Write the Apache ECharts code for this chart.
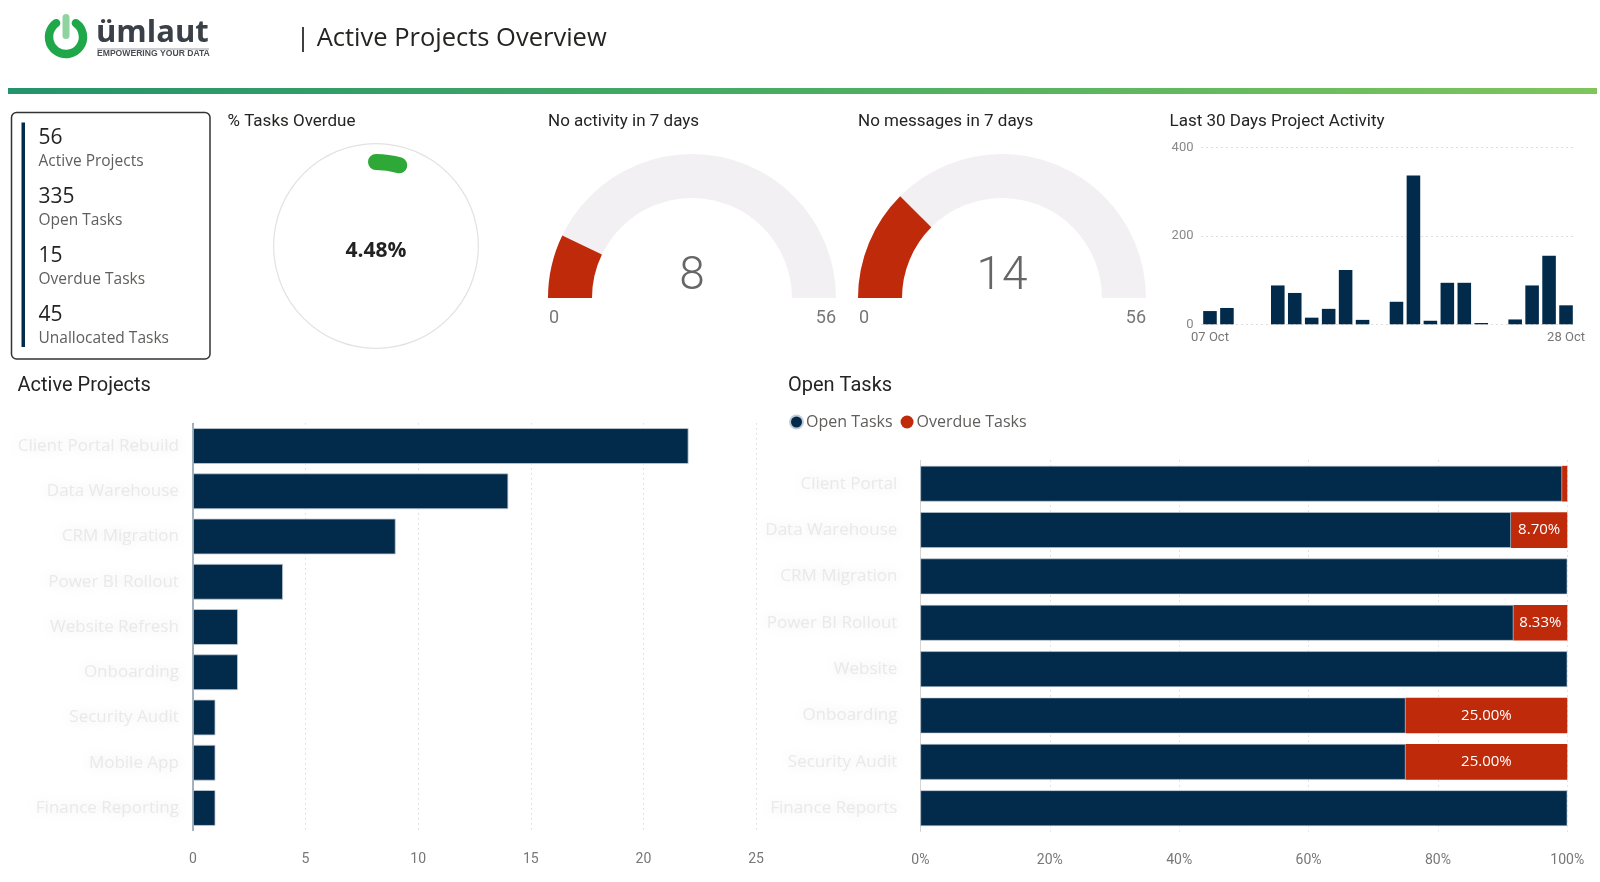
<!DOCTYPE html>
<html><head><meta charset="utf-8">
<script src="https://cdn.jsdelivr.net/npm/echarts@6/dist/echarts.min.js"></script>
<style>html,body{margin:0;padding:0;background:#fff}#c{width:1600px;height:882px}</style>
</head><body><div id="c"></div>
<script>
// ---------- DATA ----------
const kpiValues = [56, 335, 15, 45];
const kpiLabels = ['Active Projects', 'Open Tasks', 'Overdue Tasks', 'Unallocated Tasks'];
const pctOverdue = 4.48;
const noActivity = 8;
const noMessages = 14;
const gaugeMin = 0;
const gaugeMax = 56;
const activityDates = ['07 Oct','08 Oct','09 Oct','10 Oct','11 Oct','12 Oct','13 Oct','14 Oct','15 Oct','16 Oct','17 Oct',
  '18 Oct','19 Oct','20 Oct','21 Oct','22 Oct','23 Oct','24 Oct','25 Oct','26 Oct','27 Oct','28 Oct'];
const activityValues = [30, 37, 0, 0, 88, 71, 15, 35, 123, 10, 0, 51, 337, 8, 94, 94, 3, 0, 11, 88, 155, 43];
const activityTicks = [0, 200, 400];
const projectNames = ['Client Portal Rebuild', 'Data Warehouse', 'CRM Migration', 'Power BI Rollout', 'Website Refresh',
  'Onboarding', 'Security Audit', 'Mobile App', 'Finance Reporting'];
const projectCounts = [22, 14, 9, 4, 2, 2, 1, 1, 1];
const taskProjects = ['Client Portal', 'Data Warehouse', 'CRM Migration', 'Power BI Rollout', 'Website',
  'Onboarding', 'Security Audit', 'Finance Reports'];
const openShare = [99.2, 91.30, 100, 91.67, 100, 75.00, 75.00, 100];
const overdueShare = [0.8, 8.70, 0, 8.33, 0, 25.00, 25.00, 0];

// ---------- STYLE ----------
const NAVY = '#022a4a';
const RED = '#bf2a0a';
const GREEN = '#2ea836';
const TFONT = 'Roboto, sans-serif';
const SFONT = "'Open Sans', 'Noto Sans', sans-serif";

const chart = echarts.init(document.getElementById('c'), null, {renderer: 'canvas'});

const blurLabel = {
  color: 'rgba(200,200,200,0.35)', textShadowColor: 'rgba(175,175,175,0.9)', textShadowBlur: 12,
  fontSize: 17, fontFamily: SFONT
};

const graphics = [];
// logo
graphics.push({type: 'arc', shape: {cx: 66, cy: 37, r: 17, startAngle: -Math.PI / 2 + 0.62, endAngle: 3 * Math.PI / 2 - 0.62, clockwise: true},
  style: {stroke: '#1fa84a', lineWidth: 8.5, fill: null, lineCap: 'round'}});
graphics.push({type: 'rect', shape: {x: 62.5, y: 14, width: 7, height: 25, r: 3.5}, style: {fill: '#8fd3a0'}});
graphics.push({type: 'text', style: {text: 'ümlaut', x: 96, y: 33, textVerticalAlign: 'middle', fontSize: 31, fontWeight: 'bold', fontFamily: SFONT, fill: '#3a4047'}});
graphics.push({type: 'rect', shape: {x: 97, y: 48.5, width: 112, height: 1}, style: {fill: '#9aa0a6'}});
graphics.push({type: 'text', style: {text: 'EMPOWERING YOUR DATA', x: 97, y: 53.5, textVerticalAlign: 'middle', fontSize: 8.6, fontWeight: 'bold', fontFamily: 'Liberation Sans, sans-serif', fill: '#4a4f55'}});
// title
graphics.push({type: 'text', style: {text: '| Active Projects Overview', x: 296, y: 38.5, textVerticalAlign: 'middle', fontSize: 25.5, fontFamily: SFONT, fill: '#252423'}});
// gradient band
graphics.push({type: 'rect', shape: {x: 8, y: 88, width: 1589, height: 6},
  style: {fill: new echarts.graphic.LinearGradient(0, 0, 1, 0, [{offset: 0, color: '#25936b'}, {offset: 0.5, color: '#49ad62'}, {offset: 1, color: '#7fc55c'}])}});
// KPI card
graphics.push({type: 'rect', shape: {x: 11.5, y: 112.5, width: 198.5, height: 246.5, r: 5}, style: {fill: null, stroke: '#333', lineWidth: 1.5}});
graphics.push({type: 'rect', shape: {x: 21.5, y: 122.5, width: 3.5, height: 224.5}, style: {fill: NAVY}});
kpiValues.forEach((v, i) => {
  graphics.push({type: 'text', style: {text: String(v), x: 38.5, y: 138 + i * 59, textVerticalAlign: 'middle', fontSize: 21, fontFamily: SFONT, fill: '#252423'}});
  graphics.push({type: 'text', style: {text: kpiLabels[i], x: 38.5, y: 162 + i * 59, textVerticalAlign: 'middle', fontSize: 15.5, fontFamily: SFONT, fill: '#605e5c'}});
});
// panel titles
[['% Tasks Overdue', 227.5, 121.5], ['No activity in 7 days', 548, 121.5], ['No messages in 7 days', 858, 121.5],
 ['Last 30 Days Project Activity', 1169.5, 121.5]].forEach(t => {
  graphics.push({type: 'text', style: {text: t[0], x: t[1], y: t[2], textVerticalAlign: 'middle', fontSize: 17, fontWeight: 'normal', fontFamily: TFONT, fill: '#252423'}});
});
[['Active Projects', 17.5, 386], ['Open Tasks', 788, 386]].forEach(t => {
  graphics.push({type: 'text', style: {text: t[0], x: t[1], y: t[2], textVerticalAlign: 'middle', fontSize: 20, fontWeight: 'normal', fontFamily: TFONT, fill: '#252423'}});
});
// gauge min / max labels
[[692, 144], [1002, 144]].forEach(g => {
  graphics.push({type: 'text', style: {text: String(gaugeMin), x: g[0] - g[1] + 1, y: 318.5, textVerticalAlign: 'middle', fontSize: 18, fontFamily: TFONT, fill: '#777'}});
  graphics.push({type: 'text', style: {text: String(gaugeMax), x: g[0] + g[1], y: 318.5, textAlign: 'right', textVerticalAlign: 'middle', fontSize: 18, fontFamily: TFONT, fill: '#777'}});
});

function halfGauge(cx, value) {
  return {
    type: 'gauge', center: [cx, 298], radius: 144, startAngle: 180, endAngle: 0, min: gaugeMin, max: gaugeMax,
    axisLine: {lineStyle: {width: 44, color: [[1, '#f3f0f3']]}},
    progress: {show: true, width: 44, itemStyle: {color: RED}},
    pointer: {show: false}, anchor: {show: false}, axisTick: {show: false}, splitLine: {show: false}, axisLabel: {show: false},
    title: {show: false},
    detail: {offsetCenter: [0, -21], fontSize: 46, fontWeight: 300, fontFamily: TFONT, color: '#666', formatter: '{value}'},
    data: [{value: value}]
  };
}

const option = {
  animation: false,
  backgroundColor: '#ffffff',
  textStyle: {fontFamily: SFONT},
  graphic: {elements: graphics},
  legend: {
    data: ['Open Tasks', 'Overdue Tasks'], left: 789, top: 414, padding: 0, icon: 'circle', itemWidth: 13, itemHeight: 13, itemGap: 8,
    textStyle: {fontSize: 16, color: '#605e5c', fontFamily: SFONT, padding: [0, 0, 0, -2]}
  },
  grid: [
    {left: 1201.5, right: 25.5, top: 147.7, bottom: 557.7, outerBoundsMode: 'none'},
    {left: 192.9, right: 843.9, top: 423.4, bottom: 51.4, outerBoundsMode: 'none'},
    {left: 920.4, right: 32.7, top: 460.5, bottom: 50.6, outerBoundsMode: 'none'}
  ],
  xAxis: [
    {type: 'category', gridIndex: 0, data: activityDates, axisTick: {show: false}, axisLine: {show: false},
      axisLabel: {interval: (i) => i === 0 || i === activityDates.length - 1, color: '#777', fontSize: 13, margin: 7, fontFamily: TFONT}},
    {type: 'value', gridIndex: 1, min: 0, max: 25, interval: 5, axisLine: {show: false}, axisTick: {show: false},
      splitLine: {lineStyle: {type: [1, 4], color: '#c8c8c8'}}, axisLabel: {color: '#777', fontSize: 14, margin: 22, fontFamily: TFONT}},
    {type: 'value', gridIndex: 2, min: 0, max: 100, interval: 20, axisLine: {show: false}, axisTick: {show: false},
      splitLine: {lineStyle: {type: [1, 4], color: '#c8c8c8'}}, axisLabel: {color: '#777', fontSize: 14, margin: 22, fontFamily: TFONT, formatter: '{value}%'}}
  ],
  yAxis: [
    {type: 'value', gridIndex: 0, min: activityTicks[0], max: activityTicks[activityTicks.length - 1], interval: activityTicks[1] - activityTicks[0],
      axisLine: {show: false}, axisTick: {show: false}, splitLine: {lineStyle: {type: [1, 4], color: '#bdbdbd'}},
      axisLabel: {color: '#888', fontSize: 13, fontFamily: TFONT}},
    {type: 'category', gridIndex: 1, inverse: true, data: projectNames, axisTick: {show: false},
      axisLine: {show: true, lineStyle: {color: '#8797a8', width: 1.5}}, axisLabel: Object.assign({margin: 14}, blurLabel)},
    {type: 'category', gridIndex: 2, inverse: true, data: taskProjects, offset: 9, axisTick: {show: false},
      axisLine: {show: true, lineStyle: {color: '#d4d4d4', width: 1}}, axisLabel: Object.assign({margin: 14}, blurLabel)}
  ],
  series: [
    {type: 'gauge', center: [376, 246], radius: 103, startAngle: 90, endAngle: -270, min: 0, max: 100,
      axisLine: {lineStyle: {width: 1.2, color: [[1, '#e2e2e2']]}}, progress: {show: false},
      pointer: {show: false}, anchor: {show: false}, axisTick: {show: false}, splitLine: {show: false}, axisLabel: {show: false},
      title: {show: false}, detail: {show: false}, data: [{value: 0}]},
    {type: 'gauge', center: [376, 246], radius: 92, startAngle: 90, endAngle: -270, min: 0, max: 100,
      axisLine: {show: false, lineStyle: {width: 16, color: [[1, 'rgba(0,0,0,0)']]}},
      progress: {show: true, width: 16, roundCap: true, itemStyle: {color: GREEN}},
      pointer: {show: false}, anchor: {show: false}, axisTick: {show: false}, splitLine: {show: false}, axisLabel: {show: false},
      title: {show: false},
      detail: {offsetCenter: [0, 5], fontSize: 21, fontWeight: 'bold', fontFamily: SFONT, color: '#222', formatter: (v) => v.toFixed(2) + '%'},
      data: [{value: pctOverdue}]},
    halfGauge(692, noActivity),
    halfGauge(1002, noMessages),
    {name: 'Activity', type: 'bar', xAxisIndex: 0, yAxisIndex: 0, data: activityValues, barCategoryGap: '20%',
      itemStyle: {color: NAVY}},
    {name: 'Projects', type: 'bar', xAxisIndex: 1, yAxisIndex: 1, data: projectCounts, barCategoryGap: '21%',
      itemStyle: {color: NAVY, borderColor: '#c3ccd6', borderWidth: 0.8}},
    {name: 'Open Tasks', type: 'bar', xAxisIndex: 2, yAxisIndex: 2, stack: 'tasks', data: openShare, barCategoryGap: '23%',
      itemStyle: {color: NAVY, borderColor: '#c3ccd6', borderWidth: 0.6}},
    {name: 'Overdue Tasks', type: 'bar', xAxisIndex: 2, yAxisIndex: 2, stack: 'tasks', data: overdueShare, barCategoryGap: '23%',
      itemStyle: {color: RED},
      label: {show: true, position: 'inside', color: '#fff', fontSize: 15, fontFamily: SFONT,
        formatter: (p) => p.value >= 5 ? p.value.toFixed(2) + '%' : ''}}
  ]
};
chart.setOption(option);
</script>
</body></html>
